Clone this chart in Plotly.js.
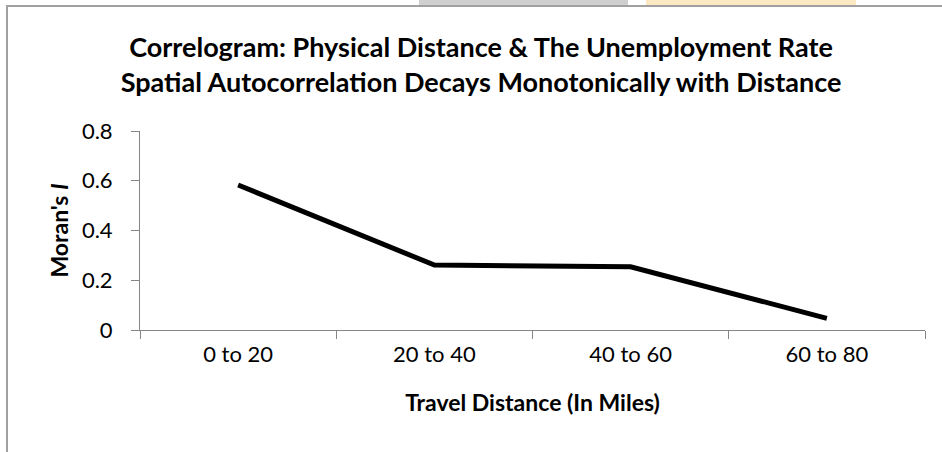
<!DOCTYPE html>
<html>
<head>
<meta charset="utf-8">
<script src="https://cdn.plot.ly/plotly-3.0.1.min.js"></script>
<style>
html,body{margin:0;padding:0;background:#fff;}
#chart{width:942px;height:452px;}
</style>
</head>
<body>
<div id="chart"></div>
<script>
var categories = ["0 to 20", "20 to 40", "40 to 60", "60 to 80"];
var moransI = [0.583, 0.261, 0.254, 0.047];
var yTickVals = [0, 0.2, 0.4, 0.6, 0.8];
var yTickText = ["0", "0.2", "0.4", "0.6", "0.8"];

var W = 942, H = 452, L = 140, R = 17, T = 131, B = 122;
var pw = W - L - R, ph = H - T - B;
function px(x){ return (x - L) / pw; }
function py(y){ return (H - B - y) / ph; }

var trace = {
  x: categories,
  y: moransI,
  type: 'scatter',
  mode: 'lines',
  line: {color: '#000000', width: 5},
  hoverinfo: 'skip'
};

var axisColor = '#868686';
var layout = {
  width: W, height: H,
  margin: {l: L, r: R, t: T, b: B, pad: 0},
  paper_bgcolor: '#ffffff',
  plot_bgcolor: '#ffffff',
  showlegend: false,
  font: {family: 'Lato, "Open Sans", sans-serif', color: '#000000', size: 22},
  title: {
    text: '<b>Correlogram: Physical Distance &amp; The Unemployment Rate<br>Spatial Autocorrelation Decays Monotonically with Distance</b>',
    font: {family: 'Lato, sans-serif', size: 27, color: '#000000'},
    x: 481 / W, xanchor: 'center',
    y: 1 - 57 / H, yanchor: 'middle'
  },
  xaxis: {
    type: 'category',
    range: [-0.5, 3.5],
    showgrid: false,
    zeroline: false,
    showline: true,
    linecolor: axisColor,
    linewidth: 1,
    ticks: 'outside',
    tickson: 'boundaries',
    ticklen: 8,
    tickcolor: axisColor,
    tickwidth: 1,
    ticklabelstandoff: 5,
    tickfont: {size: 22, color: '#000000'},
    title: {text: '<b>Travel Distance (In Miles)</b>', font: {size: 23, color: '#000000'}, standoff: 28},
    fixedrange: true
  },
  yaxis: {
    range: [0, 0.8],
    tickvals: yTickVals,
    ticktext: yTickText,
    showgrid: false,
    zeroline: false,
    showline: true,
    linecolor: axisColor,
    linewidth: 1,
    ticks: 'outside',
    ticklen: 8,
    tickcolor: axisColor,
    tickwidth: 1,
    ticklabelstandoff: 14,
    tickfont: {size: 22, color: '#000000'},
    title: {text: "<b>Moran's <i>I</i></b>", font: {size: 23, color: '#000000'}, standoff: 6},
    fixedrange: true
  },
  shapes: [
    {type: 'line', xref: 'paper', yref: 'paper', x0: px(7), x1: px(7), y0: py(6), y1: py(460), line: {color: '#a0a0a0', width: 2}},
    {type: 'line', xref: 'paper', yref: 'paper', x0: px(6), x1: px(950), y0: py(6), y1: py(6), line: {color: '#a0a0a0', width: 2}},
    {type: 'rect', xref: 'paper', yref: 'paper', x0: px(419), x1: px(628), y0: py(0), y1: py(5), fillcolor: '#cfcfcf', line: {width: 0}},
    {type: 'rect', xref: 'paper', yref: 'paper', x0: px(646), x1: px(856), y0: py(0), y1: py(5), fillcolor: '#fde8c4', line: {width: 0}}
  ]
};

Plotly.newPlot('chart', [trace], layout, {displayModeBar: false, staticPlot: true});
</script>
</body>
</html>
